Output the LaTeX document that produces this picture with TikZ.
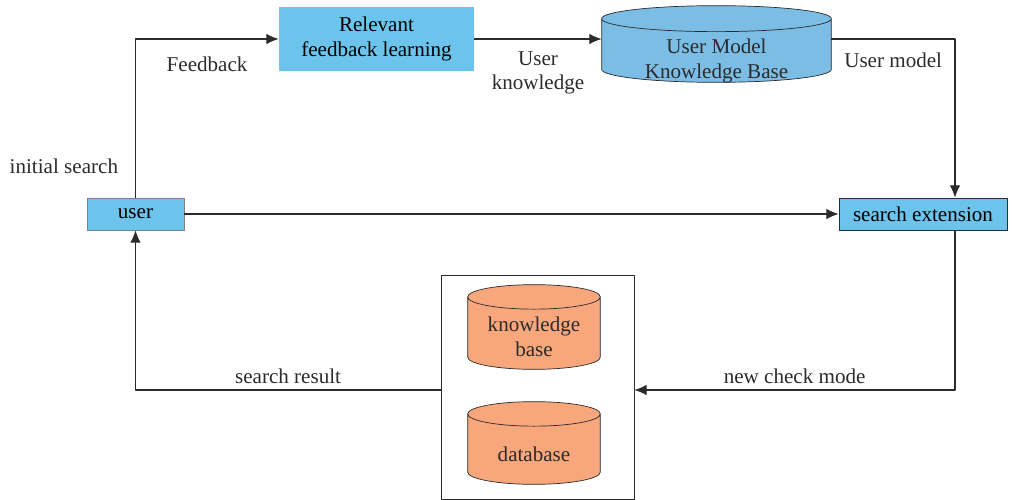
\documentclass[tikz,border=0pt]{standalone}
\usepackage{fontspec}
\setmainfont{Liberation Serif}
\usetikzlibrary{calc,arrows.meta}
\definecolor{boxblue}{HTML}{6CC4EC}
\definecolor{dbblue}{HTML}{7BBDE4}
\definecolor{dbsalmon}{HTML}{F7A77B}
\definecolor{ink}{HTML}{2B2B2B}
\tikzset{
	box/.style={draw=ink!60, fill=boxblue, align=center, inner sep=0pt},
	store/.style={inner sep=0pt},
	storetext/.style={align=center, text=ink, inner sep=0pt},
	link/.style={->, draw=ink, line width=0.7pt}
}
% drum outline round a named node: node, radius of the end ellipses, fill
\newcommand{\drum}[3]{%
	\draw[draw=ink, fill=#3] let \p1=(#1.north west), \p2=(#1.south east), \n1={(\x2-\x1)/2} in
		([yshift=-#2]#1.north west) -- ([yshift=#2]#1.south west)
		arc[start angle=180, end angle=360, x radius=\n1, y radius=#2]
		-- ([yshift=-#2]#1.north east)
		arc[start angle=0, end angle=180, x radius=\n1, y radius=#2] -- cycle
		([yshift=-#2]#1.north west)
		arc[start angle=180, end angle=360, x radius=\n1, y radius=#2];
}
\begin{document}
\begin{tikzpicture}[x=0.02cm, y=-0.02cm, font=\fontsize{12}{14}\selectfont, line join=round, >={Latex[length=7pt, width=6pt]}]
	\useasboundingbox (0,0) rectangle (1012,500);
	% nodes
	\node[box, minimum width=1.94cm, minimum height=0.64cm] (user) at (135.5,214) {user};
	\node[box, draw=none, minimum width=3.9cm, minimum height=1.3cm] (rfl) at (376.5,39) {Relevant\\feedback learning};
	\node[store, minimum width=4.58cm, minimum height=1.52cm] (umkb) at (716.5,44) {};
	\drum{umkb}{0.26cm}{dbblue}
	\node[storetext] (umkbtext) at (716.5,61) {User Model\\Knowledge Base};
	\node[box, draw=ink, minimum width=3.36cm, minimum height=0.64cm] (ext) at (923,214) {search extension};
	\node[draw=ink, fill=white, minimum width=3.86cm, minimum height=4.48cm] (dbs) at (537.5,387) {};
	\node[store, minimum width=2.64cm, minimum height=1.68cm] (kb) at (534,327) {};
	\drum{kb}{0.245cm}{dbsalmon}
	\node[storetext] (kbtext) at (534,337) {knowledge\\base};
	\node[store, minimum width=2.64cm, minimum height=1.64cm] (db) at (534,443) {};
	\drum{db}{0.245cm}{dbsalmon}
	\node[storetext] (dbtext) at (534,454) {database};
	% connectors
	\draw[link] (user.north) |- (rfl.west)
		node[pos=0.1, left=0.22cm, text=ink] {initial search}
		node[pos=0.75, below=0.23cm, text=ink] {Feedback};
	\draw[link] (rfl.east) -- (rfl.east -| umkb.west)
		node[midway, below=0.12cm, align=center, text=ink] {User\\knowledge};
	\draw[link] (rfl.east -| umkb.east) -| ([xshift=0.64cm]ext.north)
		node[pos=0.25, below=0.14cm, text=ink] {User model};
	\draw[link] (user.east) -- (ext.west);
	\draw[link] ([xshift=0.64cm]ext.south) |- ([yshift=-0.06cm]dbs.east)
		node[pos=0.75, above=0pt, text=ink] {new check mode};
	\draw[link] ([yshift=-0.06cm]dbs.west) -| (user.south)
		node[pos=0.25, above=0pt, text=ink] {search result};
\end{tikzpicture}
\end{document}
